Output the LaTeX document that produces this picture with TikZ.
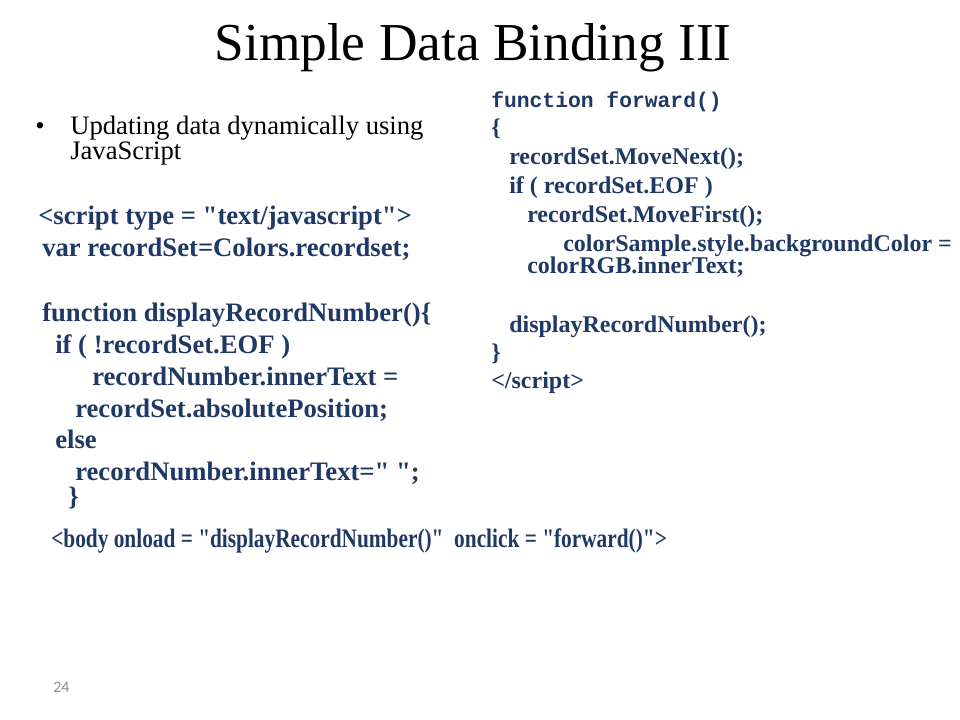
\documentclass[tikz,border=0pt]{standalone}
\usepackage{fontspec}
\setmainfont{Liberation Serif}[Ligatures=TeXOff]
\setmonofont{Liberation Mono}
\newfontfamily\numfont{Carlito}
\newfontfamily\narrowfont{Liberation Serif}[Ligatures=TeXOff,FakeStretch=0.8]
\usepackage{tikz}
\definecolor{codeblue}{RGB}{31,56,100}
\definecolor{numgray}{RGB}{140,140,140}

\begin{document}
\begin{tikzpicture}[x=0.75pt,y=-0.75pt,
	line/.style={anchor=base west, inner sep=0pt},
	lcode/.style={line, text=codeblue, font=\bfseries\fontsize{20}{20}\selectfont},
	rcode/.style={line, text=codeblue, font=\bfseries\fontsize{18}{18}\selectfont}]
			\useasboundingbox (0,0) rectangle (960,720);

			% title
			\node	(title) at (473,61) [anchor=base, inner sep=0pt, font=\fontsize{40}{40}\selectfont] {Simple Data Binding III};

			% bullet
			\node	(dot) at (35,135) [line, font=\fontsize{20}{20}\selectfont] {\textbullet};
			\node	(b1) at (70,135) [line, font=\fontsize{20}{20}\selectfont] {Updating data dynamically using};
			\node	(b2) at (70,160) [line, font=\fontsize{20}{20}\selectfont] {JavaScript};

			% left code
			\node	(l1) at (38,225) [lcode] {<script type = "text/javascript">};
			\node	(l2) at (42,257) [lcode] {var recordSet=Colors.recordset;};
			\node	(l3) at (42,321) [lcode] {function displayRecordNumber()\{};
			\node	(l4) at (55,353) [lcode] {if ( !recordSet.EOF )};
			\node	(l5) at (92,385) [lcode] {recordNumber.innerText =};
			\node	(l6) at (75,417) [lcode] {recordSet.absolutePosition;};
			\node	(l7) at (55,448) [lcode] {else};
			\node	(l8) at (75,480) [lcode] {recordNumber.innerText=" ";};
			\node	(l9) at (68,505) [lcode] {\}};

			% right code
			\node	(r1) at (491,108) [line, text=codeblue, font=\ttfamily\bfseries\fontsize{16}{16}\selectfont] {function forward()};
			\node	(r2) at (491,136) [rcode] {\{};
			\node	(r3) at (509,165) [rcode] {recordSet.MoveNext();};
			\node	(r4) at (509,194) [rcode] {if ( recordSet.EOF )};
			\node	(r5) at (527,223) [rcode] {recordSet.MoveFirst();};
			\node	(r6) at (563,252) [rcode] {colorSample.style.backgroundColor =};
			\node	(r7) at (527,274) [rcode] {colorRGB.innerText;};
			\node	(r8) at (509,332) [rcode] {displayRecordNumber();};
			\node	(r9) at (491,360) [rcode] {\}};
			\node	(r10) at (491,388) [rcode] {</script>};

			% body tag
			\node	(body) at (51,547) [line, text=codeblue, font=\narrowfont\bfseries\fontsize{20}{20}\selectfont] {<body onload = "displayRecordNumber()"\ \ onclick = "forward()">};

			% slide number
			\node	(num) at (53,692) [line, text=numgray, font=\numfont\fontsize{12}{12}\selectfont] {24};
		\end{tikzpicture}
\end{document}
